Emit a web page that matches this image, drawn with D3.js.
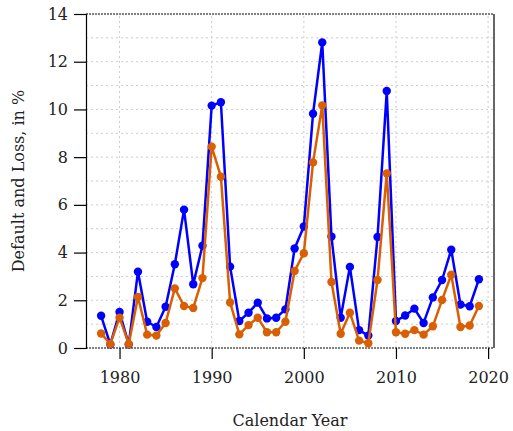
<!DOCTYPE html>
<html lang="en">
<head>
<meta charset="UTF-8">
<title>Default and Loss</title>
<script src="https://d3js.org/d3.v7.min.js"></script>
<style>
  body { margin: 0; background: #fff; }
  text { font-family: "DejaVu Serif", serif; fill: #222; }
</style>
</head>
<body>
<svg id="main" width="513" height="431"></svg>
<script>
// data
const years = d3.range(1978, 2020);
const defaultRate = [1.35, 0.15, 1.51, 0.15, 3.2, 1.1, 0.88, 1.73, 3.51, 5.8,
  2.67, 4.29, 10.16, 10.3, 3.41, 1.13, 1.48, 1.9, 1.24, 1.27,
  1.62, 4.17, 5.09, 9.82, 12.81, 4.67, 1.27, 3.4, 0.75, 0.52,
  4.65, 10.77, 1.13, 1.36, 1.65, 1.05, 2.12, 2.85, 4.12, 1.82,
  1.75, 2.88];
const lossRate = [0.61, 0.17, 1.27, 0.17, 2.14, 0.56, 0.52, 1.05, 2.5, 1.76,
  1.68, 2.93, 8.44, 7.18, 1.91, 0.57, 0.96, 1.27, 0.66, 0.66,
  1.1, 3.23, 3.97, 7.78, 10.17, 2.77, 0.6, 1.48, 0.31, 0.2,
  2.85, 7.32, 0.66, 0.6, 0.75, 0.56, 0.91, 2.01, 3.07, 0.88,
  0.94, 1.76];
const xTicks = [1980, 1990, 2000, 2010, 2020];
const yTicks = [0, 2, 4, 6, 8, 10, 12, 14];

const margin = {left: 86, right: 19, top: 14, bottom: 83};
const W = 513, H = 431;
const svg = d3.select('#main');

const x = d3.scaleLinear().domain([1976.36, 2020.64]).range([margin.left, W - margin.right]);
const y = d3.scaleLinear().domain([0, 14]).range([H - margin.bottom, margin.top]);

// grid
const grid = svg.append('g').attr('stroke', '#ccc').attr('stroke-width', 1).attr('stroke-dasharray', '2,3');
grid.selectAll('line.h').data(d3.range(1, 14)).enter().append('line')
  .attr('x1', x.range()[0]).attr('x2', x.range()[1])
  .attr('y1', d => y(d)).attr('y2', d => y(d));
grid.selectAll('line.v').data(xTicks).enter().append('line')
  .attr('x1', d => x(d)).attr('x2', d => x(d))
  .attr('y1', y(0)).attr('y2', y(14));

// frame
svg.append('line').attr('x1', x.range()[0]).attr('x2', x.range()[1]).attr('y1', y(14)).attr('y2', y(14))
  .attr('stroke', '#555').attr('stroke-width', 1.5).attr('stroke-dasharray', '2,1');
svg.append('line').attr('x1', x.range()[0]).attr('x2', x.range()[1]).attr('y1', y(0)).attr('y2', y(0))
  .attr('stroke', '#555').attr('stroke-width', 1.5).attr('stroke-dasharray', '2,1');
svg.append('line').attr('x1', x.range()[1]).attr('x2', x.range()[1]).attr('y1', y(0)).attr('y2', y(14))
  .attr('stroke', '#000').attr('stroke-width', 1.2);

// axes
const xAxis = svg.append('g').attr('transform', `translate(0,${y(0)})`)
  .call(d3.axisBottom(x).tickValues(xTicks).tickFormat(d3.format('d')).tickSize(11).tickPadding(13));
const yAxis = svg.append('g').attr('transform', `translate(${x.range()[0]},0)`)
  .call(d3.axisLeft(y).tickValues(yTicks).tickSize(12).tickPadding(6));
[xAxis, yAxis].forEach(a => {
  a.select('.domain').attr('stroke', '#000').attr('stroke-width', 1.2);
  a.selectAll('.tick line').attr('stroke', '#000').attr('stroke-width', 1.2);
  a.selectAll('.tick text').attr('font-size', 16).attr('font-family', '"DejaVu Serif", serif').attr('fill', '#222');
});
xAxis.select('.domain').remove();

// labels
svg.append('text').attr('x', (x.range()[0] + x.range()[1]) / 2).attr('y', 426)
  .attr('text-anchor', 'middle').attr('font-size', 16).text('Calendar Year');
svg.append('text').attr('transform', `translate(24,${y(7)}) rotate(-90)`)
  .attr('text-anchor', 'middle').attr('font-size', 16).text('Default and Loss, in %');

// series
const series = [
  {vals: defaultRate, color: '#0000ff'},
  {vals: lossRate, color: '#d95f02'}
];
const line = d3.line().x((d, i) => x(years[i])).y(d => y(d));
series.forEach(s => {
  const g = svg.append('g');
  g.append('path').datum(s.vals).attr('d', line)
    .attr('fill', 'none').attr('stroke', s.color).attr('stroke-width', 2.5).attr('stroke-linejoin', 'round');
  g.selectAll('circle').data(s.vals).enter().append('circle')
    .attr('cx', (d, i) => x(years[i])).attr('cy', d => y(d)).attr('r', 4.2)
    .attr('fill', s.color);
});
</script>
</body>
</html>
